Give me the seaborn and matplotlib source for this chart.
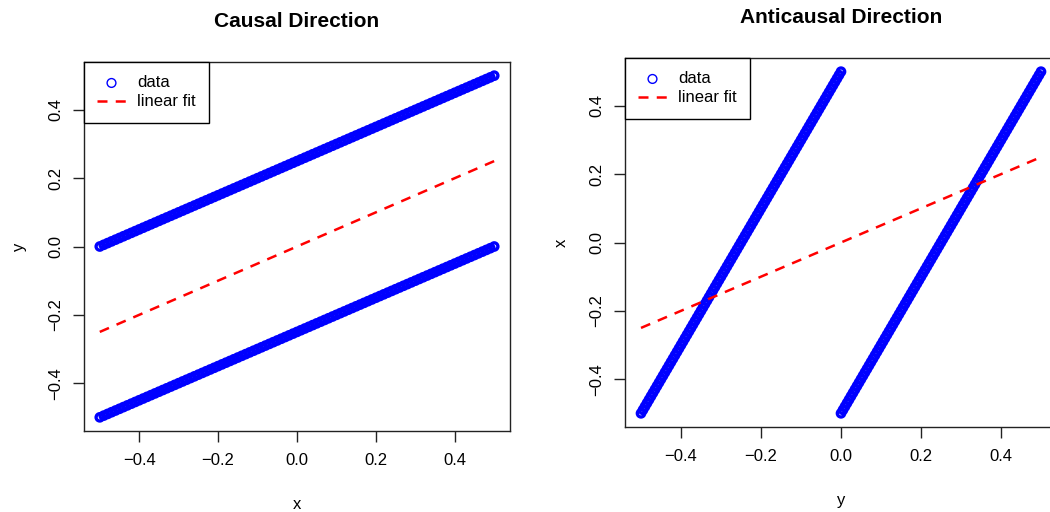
import numpy as np
import pandas as pd
import seaborn as sns
import matplotlib.pyplot as plt

# simulated sample (two parallel branches)
x_data = [
    -0.50, -0.49, -0.48, -0.47, -0.46, -0.45, -0.44, -0.43, -0.42, -0.41,
    -0.40, -0.39, -0.38, -0.37, -0.36, -0.35, -0.34, -0.33, -0.32, -0.31,
    -0.30, -0.29, -0.28, -0.27, -0.26, -0.25, -0.24, -0.23, -0.22, -0.21,
    -0.20, -0.19, -0.18, -0.17, -0.16, -0.15, -0.14, -0.13, -0.12, -0.11,
    -0.10, -0.09, -0.08, -0.07, -0.06, -0.05, -0.04, -0.03, -0.02, -0.01,
    0.00, 0.01, 0.02, 0.03, 0.04, 0.05, 0.06, 0.07, 0.08, 0.09,
    0.10, 0.11, 0.12, 0.13, 0.14, 0.15, 0.16, 0.17, 0.18, 0.19,
    0.20, 0.21, 0.22, 0.23, 0.24, 0.25, 0.26, 0.27, 0.28, 0.29,
    0.30, 0.31, 0.32, 0.33, 0.34, 0.35, 0.36, 0.37, 0.38, 0.39,
    0.40, 0.41, 0.42, 0.43, 0.44, 0.45, 0.46, 0.47, 0.48, 0.49,
    0.50,
]
y_upper = [
    0.000, 0.005, 0.010, 0.015, 0.020, 0.025, 0.030, 0.035, 0.040, 0.045,
    0.050, 0.055, 0.060, 0.065, 0.070, 0.075, 0.080, 0.085, 0.090, 0.095,
    0.100, 0.105, 0.110, 0.115, 0.120, 0.125, 0.130, 0.135, 0.140, 0.145,
    0.150, 0.155, 0.160, 0.165, 0.170, 0.175, 0.180, 0.185, 0.190, 0.195,
    0.200, 0.205, 0.210, 0.215, 0.220, 0.225, 0.230, 0.235, 0.240, 0.245,
    0.250, 0.255, 0.260, 0.265, 0.270, 0.275, 0.280, 0.285, 0.290, 0.295,
    0.300, 0.305, 0.310, 0.315, 0.320, 0.325, 0.330, 0.335, 0.340, 0.345,
    0.350, 0.355, 0.360, 0.365, 0.370, 0.375, 0.380, 0.385, 0.390, 0.395,
    0.400, 0.405, 0.410, 0.415, 0.420, 0.425, 0.430, 0.435, 0.440, 0.445,
    0.450, 0.455, 0.460, 0.465, 0.470, 0.475, 0.480, 0.485, 0.490, 0.495,
    0.500,
]
y_lower = [
    -0.500, -0.495, -0.490, -0.485, -0.480, -0.475, -0.470, -0.465, -0.460, -0.455,
    -0.450, -0.445, -0.440, -0.435, -0.430, -0.425, -0.420, -0.415, -0.410, -0.405,
    -0.400, -0.395, -0.390, -0.385, -0.380, -0.375, -0.370, -0.365, -0.360, -0.355,
    -0.350, -0.345, -0.340, -0.335, -0.330, -0.325, -0.320, -0.315, -0.310, -0.305,
    -0.300, -0.295, -0.290, -0.285, -0.280, -0.275, -0.270, -0.265, -0.260, -0.255,
    -0.250, -0.245, -0.240, -0.235, -0.230, -0.225, -0.220, -0.215, -0.210, -0.205,
    -0.200, -0.195, -0.190, -0.185, -0.180, -0.175, -0.170, -0.165, -0.160, -0.155,
    -0.150, -0.145, -0.140, -0.135, -0.130, -0.125, -0.120, -0.115, -0.110, -0.105,
    -0.100, -0.095, -0.090, -0.085, -0.080, -0.075, -0.070, -0.065, -0.060, -0.055,
    -0.050, -0.045, -0.040, -0.035, -0.030, -0.025, -0.020, -0.015, -0.010, -0.005,
    0.000,
]

# least squares fits (same slope both ways)
fit_in = [-0.5, 0.5]
fit_out = [-0.25, 0.25]

ticks = [-0.4, -0.2, 0.0, 0.2, 0.4]
tick_labels = ["\u22120.4", "\u22120.2", "0.0", "0.2", "0.4"]

df = pd.DataFrame({
    "x": x_data + x_data,
    "y": y_upper + y_lower,
})

sns.set_style("ticks")
plt.rcParams["font.family"] = ["Liberation Sans", "DejaVu Sans"]
plt.rcParams["text.color"] = "black"
plt.rcParams["axes.labelcolor"] = "black"
plt.rcParams["axes.edgecolor"] = "#222222"
plt.rcParams["xtick.color"] = "#222222"
plt.rcParams["ytick.color"] = "#222222"
plt.rcParams["xtick.labelcolor"] = "black"
plt.rcParams["ytick.labelcolor"] = "black"

W, H = 1050, 512
fig = plt.figure(figsize=(W / 100, H / 100), dpi=100)


def px_axes(left, top, right, bottom):
    return fig.add_axes([left / W, 1 - bottom / H, (right - left) / W, (bottom - top) / H])


ax1 = px_axes(84, 62, 510, 431)
ax2 = px_axes(625, 58, 1057, 427)


def draw(ax, xcol, ycol, title, xlabel, ylabel):
    sns.scatterplot(data=df, x=xcol, y=ycol, ax=ax, marker="o", s=28,
                    facecolor="none", edgecolor="blue", linewidth=2.4,
                    label="data")
    sns.lineplot(x=fit_in, y=fit_out, ax=ax, color="red", linewidth=1.8,
                 linestyle=(0, (4, 3.3)), label="linear fit")
    ax.set_xlim(-0.54, 0.54)
    ax.set_ylim(-0.54, 0.54)
    ax.set_xticks(ticks, tick_labels)
    ax.set_yticks(ticks, tick_labels)
    ax.tick_params(length=8, width=1, labelsize=12, pad=8)
    ax.tick_params(axis="y", pad=7)
    for lab in ax.get_yticklabels():
        lab.set_rotation(90)
        lab.set_va("center")
    for sp in ax.spines.values():
        sp.set_linewidth(1)
    ax.set_title(title, fontsize=15, fontweight="bold", pad=25)
    ax.set_xlabel(xlabel, fontsize=12, labelpad=21)
    ax.set_ylabel(ylabel, fontsize=12, labelpad=15)
    leg = ax.legend(loc="upper left", borderaxespad=0, fancybox=False,
                    framealpha=1, edgecolor="black", fontsize=12,
                    handlelength=1.7, handletextpad=0.7, borderpad=0.8,
                    labelspacing=0.25, scatterpoints=1)
    leg.get_frame().set_linewidth(1)
    # thin ring in the key, like a single open circle
    leg.legend_handles[0].set_linewidth(1.0)
    leg.legend_handles[0].set_sizes([40])


draw(ax1, "x", "y", "Causal Direction", "x", "y")
draw(ax2, "y", "x", "Anticausal Direction", "y", "x")

fig.savefig("out.png", dpi=100)
